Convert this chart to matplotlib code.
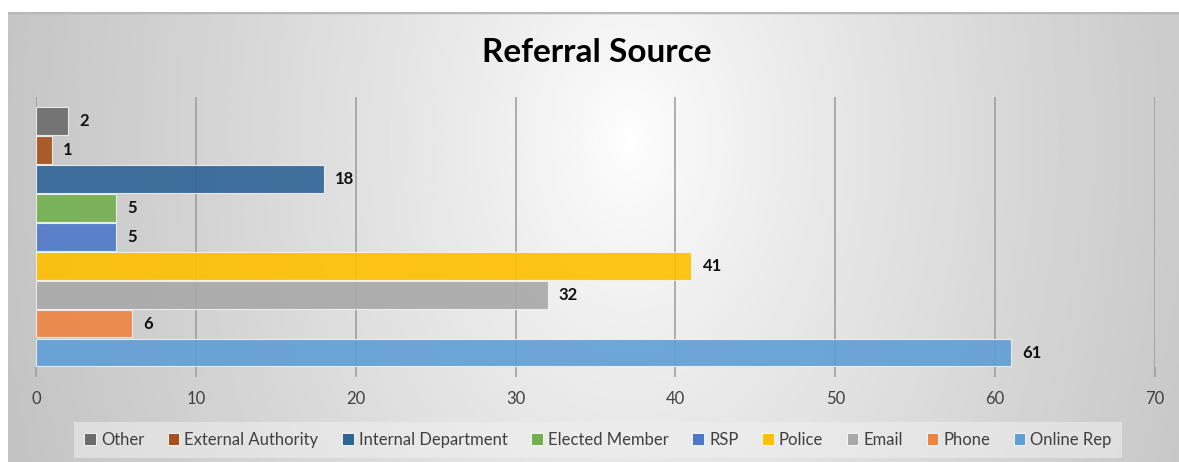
import numpy as np
import matplotlib.pyplot as plt
from matplotlib.patches import Patch

# data, listed top to bottom as in the chart / legend
categories = [
    "Other",
    "External Authority",
    "Internal Department",
    "Elected Member",
    "RSP",
    "Police",
    "Email",
    "Phone",
    "Online Rep",
]
counts = [2, 1, 18, 5, 5, 41, 32, 6, 61]
bar_colors = [
    "#6b6b6b",
    "#a5501a",
    "#2e6496",
    "#72b04e",
    "#4d78c8",
    "#ffc000",
    "#a8a8a8",
    "#ee8442",
    "#5f9ed6",
]
x_ticks = [0, 10, 20, 30, 40, 50, 60, 70]

W, H = 1179, 462
plt.rcParams["font.family"] = ["Lato", "DejaVu Sans"]

fig = plt.figure(figsize=(W / 100, H / 100), dpi=100)
fig.patch.set_facecolor("white")

# radial gradient background of the chart box
bg = fig.add_axes([8 / W, 0, (W - 8) / W, (H - 12) / H])
bg.set_axis_off()
bx = np.linspace(8, W, 600)
by = np.linspace(12, H, 240)
gx, gy = np.meshgrid(bx, by)
r = np.sqrt(((gx - 630) / 600) ** 2 + ((gy - 140) / 900) ** 2)
level = 1.0 - 0.22 * np.clip(r, 0, 1.1) ** 0.8
bg.imshow(level, cmap="gray", vmin=0, vmax=1, aspect="auto",
          extent=[0, 1, 0, 1], interpolation="bilinear")
bg.axhline(1, color="#b8b8b8", lw=2.5)
bg.set_xlim(0, 1)
bg.set_ylim(0, 1)

# plot area
ax = fig.add_axes([36 / W, (H - 367) / H, (1155 - 36) / W, (367 - 97) / H])
ax.patch.set_alpha(0)

y_pos = np.arange(len(categories))[::-1]
for name, val, col, y in zip(categories, counts, bar_colors, y_pos):
    ax.barh(y, val, height=0.96, color=col, alpha=0.9, edgecolor="#f2f2f2",
            linewidth=0.8, label=name, zorder=3)
    ax.annotate(str(val), xy=(val, y), xytext=(8, 0), textcoords="offset points",
                ha="left", va="center", fontsize=12, fontweight="bold",
                color="#111111", zorder=4)

ax.set_xlim(0, 70)
ax.set_ylim(-0.5, 8.83)
ax.set_xticks(x_ticks)
ax.set_yticks([])
ax.grid(axis="x", color="#9a9a9a", linewidth=1.1, zorder=1)
ax.tick_params(axis="x", length=7, width=1.1, color="#9a9a9a", pad=10,
               labelsize=12, labelcolor="#404040")
for side in ["top", "right", "left", "bottom"]:
    ax.spines[side].set_visible(False)

fig.text(597 / W, 1 - 52 / H, "Referral Source", ha="center", va="center",
         fontsize=24, fontweight="bold", color="black")

handles = [Patch(facecolor=c, edgecolor="white", linewidth=0.6)
           for c in bar_colors]
leg = fig.legend(handles, categories, loc="center",
                 bbox_to_anchor=(598 / W, 1 - 440 / H), ncol=len(categories),
                 frameon=True, fontsize=12, handlelength=0.7,
                 handleheight=0.7, handletextpad=0.3, columnspacing=1.42,
                 borderpad=0.6, fancybox=False)
leg.get_frame().set_facecolor("#f0f0f0")
leg.get_frame().set_alpha(0.55)
leg.get_frame().set_linewidth(0)
for t in leg.get_texts():
    t.set_color("#404040")

fig.savefig("out.png", dpi=100)
